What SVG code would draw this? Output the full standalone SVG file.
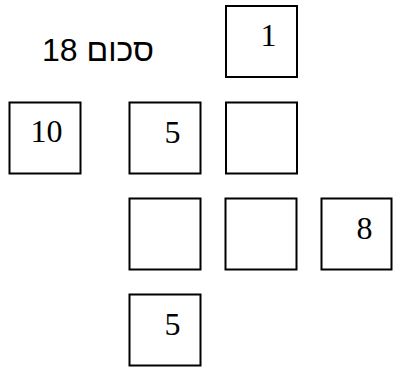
<svg xmlns="http://www.w3.org/2000/svg" width="393" height="369" viewBox="0 0 393 369">
<style>
.box{fill:#fff;stroke:#000;stroke-width:2}
.num{font-family:"Liberation Serif","Times New Roman",serif;font-size:32px;fill:#000;text-anchor:middle}
.lbl{font-family:"Liberation Sans",Arial,sans-serif;font-size:32px;fill:#000}
</style>
<rect width="393" height="369" fill="#fff"/>
<g id="title">
<text class="lbl" x="98" y="61" text-anchor="middle" direction="rtl">סכום 18</text>
</g>
<g id="b1"><rect class="box" x="226" y="6" width="71" height="71"/><text class="num" x="268.5" y="46">1</text></g>
<g id="b10"><rect class="box" x="9.5" y="102.5" width="71" height="71"/><text class="num" x="46.5" y="142">10</text></g>
<g id="b5a"><rect class="box" x="129.5" y="102.5" width="71" height="71"/><text class="num" x="172.5" y="142.5">5</text></g>
<g id="b_r2c3"><rect class="box" x="226" y="102.5" width="71" height="71"/></g>
<g id="b_r3c2"><rect class="box" x="129.5" y="198.5" width="71" height="71"/></g>
<g id="b_r3c3"><rect class="box" x="225.5" y="198.5" width="71" height="71"/></g>
<g id="b8"><rect class="box" x="321.5" y="198.5" width="70" height="71"/><text class="num" x="364.5" y="239">8</text></g>
<g id="b5b"><rect class="box" x="129.5" y="294.5" width="71" height="71"/><text class="num" x="172.5" y="334.5">5</text></g>
<g id="connectors"></g>
</svg>
